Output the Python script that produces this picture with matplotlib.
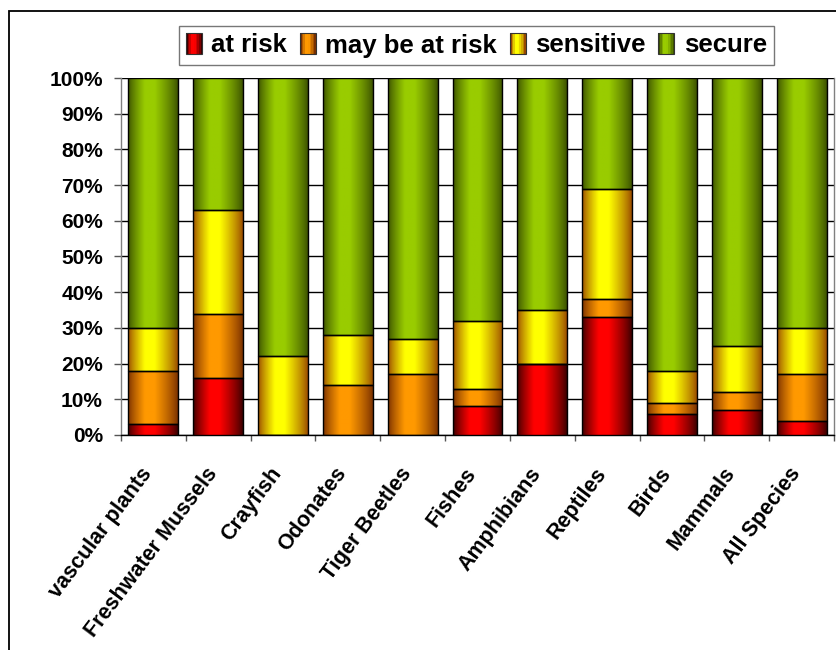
import numpy as np
import matplotlib
matplotlib.use("Agg")
import matplotlib.pyplot as plt
from matplotlib.patches import Rectangle
from matplotlib.legend_handler import HandlerBase
from matplotlib.ticker import PercentFormatter, FixedLocator

plt.rcParams["font.family"] = ["Liberation Sans", "DejaVu Sans"]
plt.rcParams["font.weight"] = "bold"

# ---------------------------------------------------------------------------
# Data (percent of species in each status class)
# ---------------------------------------------------------------------------
groups = ["vascular plants", "Freshwater Mussels", "Crayfish", "Odonates",
          "Tiger Beetles", "Fishes", "Amphibians", "Reptiles", "Birds",
          "Mammals", "All Species"]
at_risk     = [3, 16, 0, 0, 0, 8, 20, 33, 6, 7, 4]
may_be      = [15, 18, 0, 14, 17, 5, 0, 5, 3, 5, 13]
sensitive   = [12, 29, 22, 14, 10, 19, 15, 31, 9, 13, 13]
secure      = [70, 37, 78, 72, 73, 68, 65, 31, 82, 75, 70]

series_names = ["at risk", "may be at risk", "sensitive", "secure"]
series_vals  = [at_risk, may_be, sensitive, secure]
# (dark edge colour, bright centre colour) for the Excel-style gradient
series_cols  = [("#3a0000", "#ff0000"),
                ("#7a3000", "#ff9900"),
                ("#9a4a00", "#ffff00"),
                ("#3c5200", "#99cc00")]


def gradient_row(dark, bright, n=64):
    d = np.array(matplotlib.colors.to_rgb(dark))
    b = np.array(matplotlib.colors.to_rgb(bright))
    t = np.linspace(0, 1, n)
    w = np.where(t < 0.42, t / 0.42, (1 - t) / 0.58)
    w = np.clip(w * 1.25, 0, 1) ** 0.8
    return (d[None, :] * (1 - w[:, None]) + b[None, :] * w[:, None])[None, :, :]


class GradientHandler(HandlerBase):
    def __init__(self, dark, bright):
        super().__init__()
        self.dark, self.bright = dark, bright

    def create_artists(self, legend, orig_handle, xdescent, ydescent,
                       width, height, fontsize, trans):
        row = gradient_row(self.dark, self.bright, 10)[0]
        h = height * 1.2
        y0 = -ydescent - (h - height) / 2
        arts = []
        for i, c in enumerate(row):
            arts.append(Rectangle((-xdescent + width * i / 10, y0), width / 10, h,
                                  facecolor=c, edgecolor="none", transform=trans))
        arts.append(Rectangle((-xdescent, y0), width, h, facecolor="none",
                              edgecolor="#333333", lw=0.8, transform=trans))
        return arts


fig = plt.figure(figsize=(8.37, 6.5), dpi=100)
ax = fig.add_axes([0.1446, 0.3308, 0.8518, 0.5492])

x = np.arange(len(groups))
width = 0.77
bottom = np.zeros(len(groups))
handles = []
for name, vals, (dark, bright) in zip(series_names, series_vals, series_cols):
    vals = np.array(vals, dtype=float)
    bars = ax.bar(x, vals, width, bottom=bottom, facecolor="none",
                  edgecolor="black", linewidth=1.0, zorder=4, label=name)
    grad = gradient_row(dark, bright)
    for p in bars.patches:
        if p.get_height() <= 0:
            continue
        ax.imshow(grad, extent=[p.get_x(), p.get_x() + p.get_width(),
                                p.get_y(), p.get_y() + p.get_height()],
                  aspect="auto", interpolation="bilinear", zorder=3)
    handles.append(bars)
    bottom += vals

ax.set_xlim(-0.5, len(groups) - 0.5)
ax.set_ylim(0, 100)
ax.set_aspect("auto")

# Axes styling
ax.yaxis.set_major_locator(FixedLocator(np.arange(0, 101, 10)))
ax.yaxis.set_major_formatter(PercentFormatter(decimals=0))
ax.grid(True, axis="y", color="black", linewidth=1.0, zorder=1)
ax.set_axisbelow(True)
for side in ["left", "right", "top", "bottom"]:
    ax.spines[side].set_color("#808080")
    ax.spines[side].set_linewidth(1.0)
ax.spines["top"].set_visible(False)
ax.spines["bottom"].set_color("black")

ax.tick_params(axis="y", direction="out", length=5, width=1, color="#555555",
               pad=8, labelsize=15)
ax.set_xticks(x)
ax.set_xticklabels(groups, rotation=53, ha="right", va="center",
                   rotation_mode="anchor", fontsize=15.5)
ax.set_xticks(np.arange(-0.5, len(groups), 1), minor=True)
ax.tick_params(axis="x", which="major", length=0, pad=25)
ax.tick_params(axis="x", which="minor", direction="out", length=4.5, width=1,
               color="#555555")
for lbl in ax.get_yticklabels() + ax.get_xticklabels():
    lbl.set_fontweight("bold")
# nudge category labels slightly left, as in the original
for lbl in ax.get_xticklabels():
    lbl.set_x(lbl.get_position()[0])
offset = matplotlib.transforms.ScaledTranslation(-5 / 100, 0, fig.dpi_scale_trans)
for lbl in ax.get_xticklabels():
    lbl.set_transform(lbl.get_transform() + offset)

# Legend with gradient squares
hmap = {h: GradientHandler(d, b) for h, (d, b) in zip(handles, series_cols)}
leg = fig.legend(handles, series_names, handler_map=hmap, ncol=4,
                 loc="center", bbox_to_anchor=(0.5693, 0.930),
                 prop={"size": 18.5, "weight": "bold"},
                 frameon=True, fancybox=False, edgecolor="#555555",
                 handlelength=0.62, handleheight=0.7, handletextpad=0.36,
                 columnspacing=0.5, borderpad=0.3, borderaxespad=0)
leg.get_frame().set_linewidth(1.0)

# Outer chart-area border (runs off the right and bottom of the image)
fig.patches.append(Rectangle((9 / 837, -0.2), 1.2, 1.2 - 11 / 650,
                             transform=fig.transFigure, fill=False,
                             edgecolor="black", linewidth=1.3))

fig.savefig("out.png", dpi=100, facecolor="white")
